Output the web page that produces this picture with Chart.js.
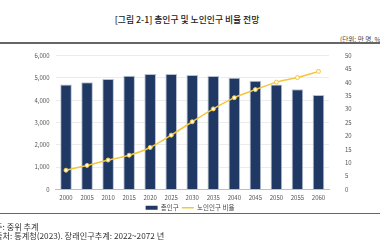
<!DOCTYPE html>
<html>
<head>
<meta charset="utf-8">
<script src="https://cdn.jsdelivr.net/npm/chart.js@4.4.1/dist/chart.umd.min.js"></script>
<style>
    html, body { margin: 0; padding: 0; background: #fff; }
    body { width: 380px; height: 240px; position: relative; overflow: hidden;
           font-family: "Noto Sans CJK KR", "Noto Sans", sans-serif; color: #222; }
    .title { position: absolute; top: 13px; left: 0; width: 374px; text-align: center;
             font-size: 8.8px; font-weight: 500; }
    .unit { position: absolute; top: 34px; left: 340px; font-size: 6.6px; color: #444; white-space: nowrap; }
    .rule { position: absolute; left: 0; width: 380px; background: #666; }
    .note { position: absolute; left: -5px; font-size: 8.2px; color: #333; white-space: nowrap; }
    #wrap { position: absolute; top: 44px; left: 0; width: 380px; height: 177px; }
</style>
</head>
<body>
<div class="title">[그림 2-1] 총인구 및 노인인구 비율 전망</div>
<div class="unit">(단위: 만 명, %)</div>
<div class="rule" style="top:42px;height:1.5px;"></div>
<div id="wrap"><canvas id="popChart"></canvas></div>
<div class="rule" style="top:213px;height:1px;"></div>
<div class="note" style="top:220px;">주: 중위 추계</div>
<div class="note" style="top:229px;">출처: 통계청(2023). 장래인구추계: 2022~2072 년</div>

<script>
// Data
const years = ['2000', '2005', '2010', '2015', '2020', '2025', '2030',
               '2035', '2040', '2045', '2050', '2055', '2060'];
const totalPopulation = [4700, 4810, 4950, 5100, 5180, 5170, 5130,
                         5090, 5010, 4870, 4710, 4490, 4230];
const elderlyRatio = [7.2, 9.0, 11.0, 12.8, 15.7, 20.3, 25.3,
                      30.1, 34.3, 37.3, 40.1, 41.8, 44.1];

const navy = '#1f3864';
const gold = '#f4c63d';
const tickFont = { family: '"Noto Sans CJK KR", sans-serif', size: 6 };

new Chart(document.getElementById('popChart'), {
    data: {
        labels: years,
        datasets: [
            {
                type: 'line',
                label: '노인인구 비율',
                data: elderlyRatio,
                yAxisID: 'yRight',
                borderColor: gold,
                borderWidth: 1.5,
                backgroundColor: '#fffbe8',
                pointBackgroundColor: '#fffbe8',
                pointBorderColor: gold,
                pointBorderWidth: 1,
                pointRadius: 2,
                tension: 0.25,
                order: 0
            },
            {
                type: 'bar',
                label: '총인구',
                data: totalPopulation,
                yAxisID: 'yLeft',
                backgroundColor: navy,
                borderColor: '#b8c0d0',
                borderWidth: 1,
                barPercentage: 0.6,
                categoryPercentage: 0.92,
                order: 1
            }
        ]
    },
    options: {
        responsive: true,
        maintainAspectRatio: false,
        animation: false,
        layout: { padding: { top: 4, bottom: 0, left: 0, right: 0 } },
        scales: {
            x: {
                grid: { display: false, drawTicks: false, tickLength: 0 },
                border: { color: '#bfbfbf' },
                ticks: { font: tickFont, color: '#555', padding: 5, maxRotation: 0 },
                afterFit: scale => { scale.height = 12; }
            },
            yLeft: {
                position: 'left',
                min: 0,
                max: 6000,
                ticks: {
                    stepSize: 1000,
                    font: tickFont,
                    color: '#555',
                    padding: 6,
                    callback: v => v.toLocaleString('en-US')
                },
                grid: { color: '#ececec', drawTicks: false },
                border: { display: false },
                afterFit: scale => { scale.width = 55.5; }
            },
            yRight: {
                position: 'right',
                min: 0,
                max: 50,
                ticks: { stepSize: 5, font: tickFont, color: '#555', padding: 8 },
                grid: { display: false },
                border: { display: false },
                afterFit: scale => { scale.width = 51; }
            }
        },
        plugins: {
            legend: {
                position: 'bottom',
                reverse: true,
                labels: {
                    font: { family: '"Noto Sans CJK KR", sans-serif', size: 6.5 },
                    color: '#444',
                    padding: 3,
                    usePointStyle: true,
                    boxHeight: 4,
                    pointStyleWidth: 12,
                    generateLabels: chart => {
                        const items = Chart.defaults.plugins.legend.labels.generateLabels(chart);
                        items.forEach(item => {
                            const ds = chart.data.datasets[item.datasetIndex];
                            if (ds.type === 'bar') {
                                item.pointStyle = 'rect';
                                item.fillStyle = navy;
                                item.strokeStyle = navy;
                                item.lineWidth = 0;
                            } else {
                                item.pointStyle = 'line';
                                item.strokeStyle = gold;
                                item.lineWidth = 1.5;
                            }
                        });
                        return items;
                    }
                }
            },
            tooltip: { enabled: false }
        }
    }
});
</script>
</body>
</html>
